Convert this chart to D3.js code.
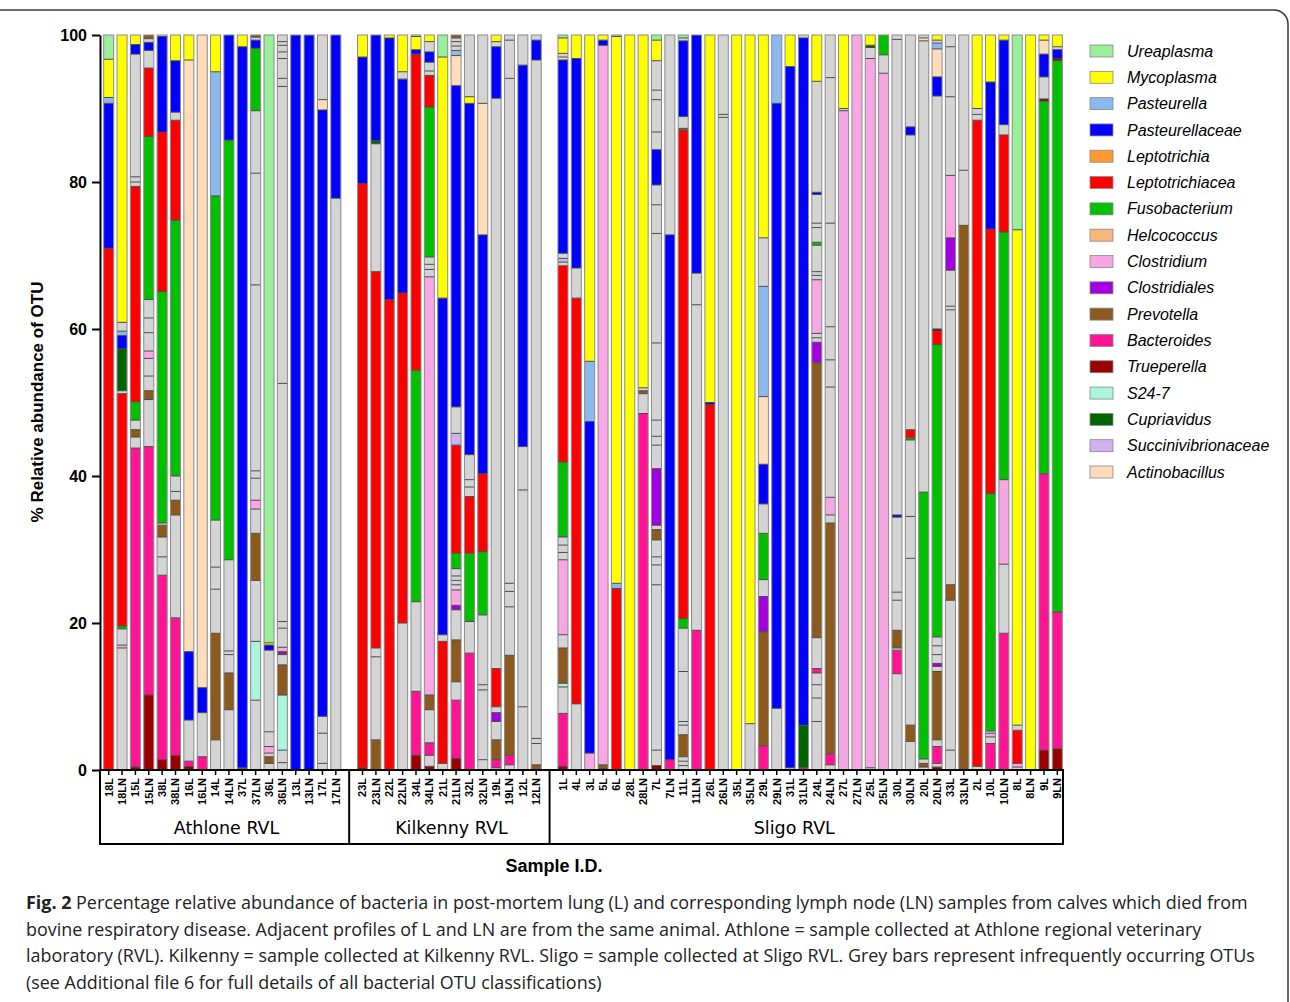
<!DOCTYPE html>
<html>
<head>
<meta charset="utf-8">
<script src="https://cdn.jsdelivr.net/npm/d3@7"></script>
<style>
  html, body { margin: 0; padding: 0; background: #fff; }
  svg { display: block; }
</style>
</head>
<body>
<svg id="chart" width="1290" height="1002"></svg>
<script>
// taxa shown in the legend (top to bottom) + short codes used in the profiles
const taxa = ['Ureaplasma', 'Mycoplasma', 'Pasteurella', 'Pasteurellaceae', 'Leptotrichia',
  'Leptotrichiacea', 'Fusobacterium', 'Helcococcus', 'Clostridium', 'Clostridiales',
  'Prevotella', 'Bacteroides', 'Trueperella', 'S24-7', 'Cupriavidus',
  'Succinivibrionaceae', 'Actinobacillus'];
const taxonCodes = ['U', 'M', 'Pa', 'Pc', 'Lt', 'Lc', 'F', 'H', 'C', 'Cs', 'Pr', 'B', 'T', 'S', 'Cu', 'Su', 'A'];
const taxonColors = ['#99ef9a', '#ffff00', '#8db9f0', '#0000ff', '#ff9a33', '#ff0000', '#00c000',
  '#f7b67a', '#f7a8e4', '#a300e0', '#8c5a1e', '#ff1493', '#9b0000', '#acf4dc', '#006400',
  '#cfb2ee', '#ffdcba'];
const otherColor = '#d4d4d4'; // code O = infrequent OTUs

const groupNames = ['Athlone RVL', 'Kilkenny RVL', 'Sligo RVL'];

const athloneSamples = ['18L', '18LN', '15L', '15LN', '38L', '38LN', '16L', '16LN', '14L', '14LN',
  '37L', '37LN', '36L', '36LN', '13L', '13LN', '17L', '17LN'];
const kilkennySamples = ['23L', '23LN', '22L', '22LN', '34L', '34LN', '21L', '21LN', '32L', '32LN',
  '19L', '19LN', '12L', '12LN'];
const sligoSamples = ['1L', '4L', '3L', '5L', '6L', '28L', '28LN', '7L', '7LN', '11L', '11LN', '26L',
  '26LN', '35L', '35LN', '29L', '29LN', '31L', '31LN', '24L', '24LN', '27L', '27LN', '25L', '25LN',
  '30L', '30LN', '20L', '20LN', '33L', '33LN', '2L', '10L', '10LN', '8L', '8LN', '9L', '9LN'];

// % abundance per sample, listed from the bottom of the bar upwards
const athloneProfiles = [
  'Lc 71, Pc 19.7, Pa 0.8, M 5.2, U 3.3',
  'O 16.6, C 0.4, O 2.2, F 0.4, Lc 31.6, O 0.4, Cu 5.7, Pc 1.8, Pa 0.6, O 1.2, M 39.1',
  'T 0.4, B 43.4, O 1.5, Pr 1.0, O 1.3, F 2.5, Lc 29.3, O 0.6, O 0.7, O 16.7, Pc 1.3, M 1.3',
  'T 10.2, B 33.8, O 6.4, Pr 1.2, O 2.0, O 2.4, C 1.0, O 2.5, O 2.0, O 2.5, F 22.2, Lc 9.3, O 2.4, Pc 1.1, O 0.5, Pr 0.5',
  'T 1.4, B 25.1, O 2.5, O 2.7, Pr 1.6, O 0.3, F 31.5, Lc 21.7, Pc 13.0, O 0.2',
  'T 2.0, B 18.7, O 14.0, Pr 2.0, O 1.2, O 2.1, F 34.8, Lc 13.6, O 1.1, Pc 7.0, M 3.5',
  'T 0.5, B 0.7, O 5.6, Pc 9.3, A 80.5, M 3.4',
  'B 1.8, O 6.0, Pc 3.4, A 88.8',
  'O 4.1, Pr 14.5, O 6.0, O 3.0, O 6.4, F 44.1, Pa 16.9, M 5.0',
  'O 8.2, Pr 5.0, O 2.5, O 0.5, O 12.4, F 57.1, Pc 14.3',
  'Pr 0.3, Pc 98.1, M 1.6',
  'O 9.5, S 8.0, O 8.3, Pr 6.4, O 3.3, C 1.2, O 3.0, O 1.0, O 25.3, O 15.2, O 8.5, F 8.5, Pc 1.1, O 0.4, Pr 0.3',
  'O 0.9, Pr 0.9, O 0.5, C 0.9, O 2.0, O 11.1, Pc 0.7, M 0.3, U 82.7',
  'O 1.0, O 1.7, S 7.5, Pr 4.1, O 1.4, Cs 0.3, O 0.1, C 0.6, O 2.6, O 0.9, O 32.4, O 40.4, O 1.1, O 2.7, O 0.9, O 0.9, O 0.5, O 0.9',
  'Pc 100',
  'Pc 100',
  'O 0.9, O 4.1, O 2.3, Pc 82.5, A 1.4, O 8.8',
  'O 77.8, Pc 22.2'
];
const kilkennyProfiles = [
  'T 0.3, Lc 79.5, Pc 17.2, M 3.0',
  'Pr 4.1, O 11.3, O 1.2, Lc 51.2, O 17.4, Cu 0.4, Pc 14.4',
  'Lc 64.0, Pc 35.6, M 0.4',
  'O 20.0, Lc 44.9, Pc 29.1, O 1.0, M 5.0',
  'T 2.0, B 8.7, O 12.2, F 31.5, Lc 43.0, Pc 0.6, M 1.8, U 0.2',
  'T 0.5, O 1.5, B 1.7, O 4.5, Pr 2.0, C 56.9, O 1.0, O 0.7, O 1.0, F 20.4, Lc 4.3, O 0.6, O 1.2, Pc 1.4, O 1.4, M 0.9',
  'O 0.9, Lc 16.6, O 0.9, Pc 45.8, M 32.8, U 3.0',
  'T 1.6, B 7.9, O 2.5, Pr 5.7, O 4.1, Cs 0.6, C 2.1, O 0.7, O 0.6, O 0.6, O 1.0, F 2.1, Lc 14.7, Su 1.6, O 3.6, Pc 43.7, A 4.1, Pa 0.7, O 0.6, O 0.6, O 0.5, Pr 0.4',
  'B 15.9, O 4.3, F 9.3, Lc 7.7, O 1.3, O 1.0, O 3.4, Pc 47.8, M 0.9, O 8.4',
  'O 1.4, O 9.5, O 0.7, O 9.5, F 8.6, Lc 10.6, Pc 32.5, A 17.9, O 9.3',
  'O 0.3, B 1.1, Pr 2.7, O 2.5, Cs 1.2, O 0.8, Lc 5.2, O 77.6, Pc 7.0, O 0.7, M 0.9',
  'O 0.7, B 1.3, Pr 13.6, O 6.6, O 2.1, O 1.1, O 68.7, O 5.2, O 0.7',
  'O 8.6, O 29.5, O 5.9, Pc 51.9, O 4.1',
  'Pr 0.7, O 2.9, O 0.7, O 92.3, Pc 2.7, O 0.7'
];
const sligoProfiles = [
  'T 0.5, B 7.2, O 3.6, S 0.5, Pr 4.8, O 1.8, C 10.2, O 1.0, O 1.0, O 1.1, F 10.2, Lc 26.7, O 0.5, Su 0.5, O 0.7, Pc 26.3, A 0.4, O 0.5, M 2.1, U 0.4',
  'O 9.0, Lc 55.2, O 4.1, Pc 28.5, M 3.2',
  'C 2.3, Pc 45.1, Pa 8.2, M 44.4',
  'O 0.2, Pr 0.5, C 97.9, Pc 0.7, M 0.7',
  'Lc 24.7, Pa 0.7, M 74.4, U 0.2',
  'M 100',
  'B 48.5, O 2.7, Pr 0.4, O 0.4, M 48.0',
  'T 0.6, O 2.1, O 22.5, O 2.7, O 1.1, O 2.3, Pr 1.4, O 0.6, Cs 7.7, O 3.2, O 1.2, O 2.2, O 10.5, O 14.9, O 3.9, O 2.7, Pc 4.8, O 2.4, O 4.4, O 1.3, O 4.0, M 2.8, U 0.7',
  'B 1.4, Pc 71.4, O 27.2',
  'O 0.6, O 0.6, O 0.6, Pr 3.0, O 1.3, O 0.5, O 6.8, O 5.9, F 1.3, Lc 66.4, Pr 0.3, O 1.6, Pc 10.3, O 0.4, U 0.4',
  'B 19.0, O 44.3, O 4.3, Pc 32.4',
  'Lc 49.7, Pc 0.3, M 50.0',
  'O 88.8, O 0.4, O 10.8',
  'M 100',
  'O 6.3, M 93.7',
  'B 3.3, Pr 15.5, Cs 4.8, O 2.3, F 6.3, O 4.0, Pc 5.4, A 9.2, Pa 15.0, O 6.6, M 27.6',
  'O 8.4, Pc 82.3, Pa 9.3',
  'O 0.3, Pc 95.4, M 4.3',
  'B 0.3, Cu 5.8, Pc 93.5, O 0.4',
  'O 6.6, O 3.2, O 1.8, O 1.6, B 0.6, O 4.2, Pr 37.4, Cs 2.8, O 0.6, O 0.6, C 7.3, O 0.6, O 0.5, O 3.6, F 0.4, O 2.0, O 0.6, O 3.9, Pc 0.3, O 15.1, M 6.3',
  'O 0.7, B 1.5, Pr 31.4, O 1.1, C 2.4, O 15.0, O 3.7, O 4.5, O 14.1, O 19.8, O 5.8',
  'C 89.7, O 0.3, M 10.0',
  'C 100',
  'O 0.3, C 96.5, O 1.5, Cu 0.3, M 1.4',
  'C 94.8, O 2.5, F 2.7',
  'O 13.1, B 3.2, S 0.3, Pr 2.4, O 4.1, O 1.1, O 10.2, Pc 0.3, O 64.7, O 0.6',
  'O 3.9, Pr 2.2, O 22.7, O 5.7, O 10.4, F 0.3, Lc 1.1, O 40.1, Pc 1.1, O 12.5',
  'O 0.4, Pr 0.5, O 0.6, F 36.3, O 61.4, A 0.4, O 0.4',
  'T 0.4, O 0.5, B 2.3, O 0.9, Pr 9.3, O 0.7, Cs 0.4, O 1.2, O 1.2, O 1.2, F 39.8, Lc 1.8, T 0.3, O 31.7, Pc 2.6, A 3.8, Pa 0.8, O 0.4, M 0.7',
  'O 2.7, O 20.4, Pr 2.1, O 37.4, O 0.5, O 4.9, Cs 4.4, C 8.5, O 10.7, O 6.8, O 1.6',
  'Pr 74.1, O 7.5, O 18.4',
  'O 0.5, Lc 87.9, O 0.8, O 0.8, M 10.0',
  'B 3.6, O 0.9, C 0.5, O 0.3, F 32.3, Lc 36.0, Pc 20.0, M 6.4',
  'B 18.6, O 9.4, C 11.5, F 33.7, Lc 13.2, O 1.4, Pc 11.5, M 0.7',
  'O 0.4, C 0.5, Lc 4.5, O 0.7, M 67.4, U 26.5',
  'M 100',
  'T 2.7, B 37.6, F 50.7, T 0.3, O 3.0, Pc 3.1, A 1.9, M 0.7',
  'T 2.9, B 18.6, F 75.0, T 0.3, Pc 1.2, O 0.4, M 1.6'
];

const yTicks = [0, 20, 40, 60, 80, 100];
const yLabel = '% Relative abundance of OTU';
const xLabel = 'Sample I.D.';
const captionTitle = 'Fig. 2';
const captionLines = [
  ' Percentage relative abundance of bacteria in post-mortem lung (L) and corresponding lymph node (LN) samples from calves which died from',
  'bovine respiratory disease. Adjacent profiles of L and LN are from the same animal. Athlone = sample collected at Athlone regional veterinary',
  'laboratory (RVL). Kilkenny = sample collected at Kilkenny RVL. Sligo = sample collected at Sligo RVL. Grey bars represent infrequently occurring OTUs',
  '(see Additional file 6 for full details of all bacterial OTU classifications)'
];

const svg = d3.select('#chart');
const font = "'Liberation Sans', Arial, sans-serif";

// figure frame
svg.append('path')
  .attr('d', 'M-5,10 H1274 A14,14 0 0 1 1288,24 V1010')
  .attr('fill', 'none').attr('stroke', '#3a3a3a').attr('stroke-width', 1.5);

const color = d3.scaleOrdinal().domain(taxonCodes.concat(['O'])).range(taxonColors.concat([otherColor]));

// columns (one empty slot between the groups)
const groupSamples = [athloneSamples, kilkennySamples, sligoSamples];
const groupProfiles = [athloneProfiles, kilkennyProfiles, sligoProfiles];
const columns = [];
const slots = [];
groupSamples.forEach((list, gi) => {
  if (gi > 0) slots.push('gap' + gi);
  list.forEach((s, i) => {
    slots.push(s);
    const parts = groupProfiles[gi][i].split(',').map(p => p.trim().split(' '));
    const total = d3.sum(parts, p => +p[1]);
    let acc = 0;
    const segs = parts.map(p => {
      const y0 = acc / total * 100;
      acc += +p[1];
      return { code: p[0], y0, y1: acc / total * 100 };
    });
    columns.push({ sample: s, group: gi, segs });
  });
});
const allSamples = columns.map(d => d.sample);

const x = d3.scaleBand().domain(slots).range([102, 1064]).paddingInner(0.25).paddingOuter(0.125);
const y = d3.scaleLinear().domain([0, 100]).range([770, 35]);
const bw = x.bandwidth();

// bars
const bars = svg.append('g').selectAll('g').data(columns).join('g')
  .attr('transform', d => `translate(${x(d.sample)},0)`);
bars.selectAll('rect.seg').data(d => d.segs).join('rect')
  .attr('class', 'seg')
  .attr('x', 0).attr('width', bw)
  .attr('y', s => y(s.y1)).attr('height', s => y(s.y0) - y(s.y1))
  .attr('fill', s => color(s.code));
bars.selectAll('line.sep').data(d => d.segs.slice(1)).join('line')
  .attr('class', 'sep')
  .attr('x1', 0).attr('x2', bw)
  .attr('y1', s => y(s.y0)).attr('y2', s => y(s.y0))
  .attr('stroke', '#4a4a4a').attr('stroke-width', 1);
bars.append('rect')
  .attr('x', 0).attr('width', bw)
  .attr('y', y(100)).attr('height', y(0) - y(100))
  .attr('fill', 'none').attr('stroke', '#8a8a8a').attr('stroke-width', 1);

// y axis
const yAxis = svg.append('g').attr('transform', 'translate(100,0)')
  .call(d3.axisLeft(y).tickValues(yTicks).tickSize(8).tickSizeOuter(0).tickPadding(5));
yAxis.select('.domain').attr('stroke-width', 2);
yAxis.selectAll('.tick line').attr('stroke-width', 2);
yAxis.selectAll('text').attr('font-family', font).attr('font-weight', 'bold').attr('font-size', 16);

svg.append('text')
  .attr('transform', 'translate(43,402) rotate(-90)')
  .attr('text-anchor', 'middle')
  .attr('font-family', font).attr('font-weight', 'bold').attr('font-size', 17)
  .text(yLabel);

// x axis with sample labels
const xAxis = svg.append('g').attr('transform', 'translate(0,770)')
  .call(d3.axisBottom(x).tickValues(allSamples).tickSize(5).tickSizeOuter(0));
xAxis.select('.domain').remove();
xAxis.selectAll('.tick line').attr('stroke-width', 1.5);
xAxis.selectAll('text')
  .attr('transform', 'rotate(-90)')
  .attr('text-anchor', 'end')
  .attr('x', -8).attr('y', 0).attr('dy', '0.35em')
  .attr('font-family', font).attr('font-weight', 'bold').attr('font-size', 11);

// group box
const boxLeft = 100, boxRight = 1063, boxTop = 770, boxBottom = 844;
svg.append('rect')
  .attr('x', boxLeft).attr('y', boxTop).attr('width', boxRight - boxLeft).attr('height', boxBottom - boxTop)
  .attr('fill', 'none').attr('stroke', '#000').attr('stroke-width', 2);
const dividers = ['gap1', 'gap2'].map(g => x(g) + bw / 2);
svg.selectAll('line.div').data(dividers).join('line')
  .attr('x1', d => d).attr('x2', d => d).attr('y1', boxTop).attr('y2', boxBottom)
  .attr('stroke', '#000').attr('stroke-width', 2);
const edges = [boxLeft].concat(dividers, [boxRight]);
svg.selectAll('text.grp').data(groupNames).join('text')
  .attr('x', (d, i) => (edges[i] + edges[i + 1]) / 2 + (i === 2 ? -12 : 2))
  .attr('y', 834)
  .attr('text-anchor', 'middle')
  .attr('font-family', "'DejaVu Sans', Verdana, sans-serif").attr('font-size', 17.5)
  .text(d => d);

svg.append('text')
  .attr('x', 554).attr('y', 872).attr('text-anchor', 'middle')
  .attr('font-family', font).attr('font-weight', 'bold').attr('font-size', 18)
  .text(xLabel);

// legend
const ly = d3.scalePoint().domain(taxa).range([51, 472]);
const leg = svg.append('g').selectAll('g').data(taxa).join('g')
  .attr('transform', d => `translate(1090,${ly(d)})`);
leg.append('rect')
  .attr('x', 0).attr('y', -6).attr('width', 23).attr('height', 12)
  .attr('fill', (d, i) => taxonColors[i]).attr('stroke', '#888').attr('stroke-width', 0.8);
leg.append('text')
  .attr('x', 37).attr('y', 0).attr('dy', '0.35em')
  .attr('font-family', font).attr('font-style', 'italic').attr('font-size', 16)
  .text(d => d);

// caption
const cap = svg.append('g').attr('font-family', "'Open Sans', sans-serif").attr('fill', '#222');
captionLines.forEach((line, i) => {
  const t = cap.append('text').attr('x', 26).attr('y', 909 + i * 26.5).attr('font-size', 17);
  if (i === 0) t.append('tspan').attr('font-weight', 'bold').text(captionTitle);
  t.append('tspan').text(line);
});
// fit the caption to the printed width (average over its lines)
const first = cap.select('text').node();
const w = first.getComputedTextLength();
const fs = 17 * 1222 / w;
cap.selectAll('text').attr('font-size', fs);
</script>
</body>
</html>
